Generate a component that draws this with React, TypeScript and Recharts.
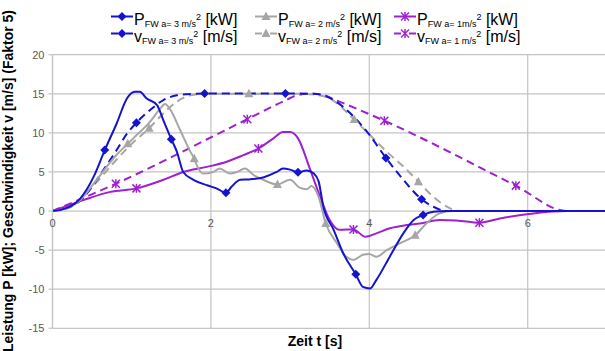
import React from 'react';
import { LineChart, Line, XAxis, YAxis, CartesianGrid } from 'recharts';

type Pt = [number, number];

// Time t [s] / value pairs
const P_A3: Pt[] = [[0,0],[0.1,0.15],[0.22,0.55],[0.35,1.6],[0.52,4.4],[0.66,7.8],[0.81,11.2],[0.94,14.4],[1.04,15.25],[1.1,15.25],[1.19,14.4],[1.32,13.55],[1.4,11.6],[1.5,9.2],[1.57,7.6],[1.65,5.0],[1.78,4.0],[1.95,3.3],[2.07,2.9],[2.19,2.35],[2.26,3.1],[2.37,4.0],[2.49,4.05],[2.66,4.3],[2.83,5.0],[2.91,5.45],[3.0,5.3],[3.1,4.95],[3.21,5.2],[3.3,4.8],[3.36,3.8],[3.42,0.55],[3.55,-2.4],[3.67,-5.4],[3.83,-8.1],[3.92,-9.7],[4.01,-9.9],[4.09,-8.8],[4.26,-5.8],[4.43,-2.85],[4.56,-1.15],[4.68,-0.5],[4.81,-0.1],[4.98,0],[7,0]];
const P_A3_MARKS = [0.66, 1.5, 2.19, 3.1, 3.83, 4.68];

const P_A2: Pt[] = [[0,0],[0.22,0.5],[0.35,1.4],[0.52,3.5],[0.81,7.2],[0.95,8.6],[1.02,9.3],[1.23,11.4],[1.36,13.1],[1.42,13.7],[1.48,13.1],[1.61,10.4],[1.74,7.6],[1.79,6.7],[1.82,5.9],[1.9,4.8],[2.03,5.0],[2.11,5.45],[2.24,4.8],[2.33,5.0],[2.43,5.45],[2.54,4.6],[2.66,4.0],[2.84,3.4],[3.0,4.0],[3.12,3.0],[3.21,2.8],[3.27,3.2],[3.36,1.8],[3.45,-1.6],[3.59,-4.1],[3.71,-5.85],[3.8,-6.25],[3.92,-5.6],[4.0,-5.5],[4.09,-5.85],[4.22,-5.0],[4.39,-4.1],[4.58,-3.1],[4.72,-1.6],[4.89,-0.3],[5.06,0],[7,0]];
const P_A2_MARKS = [0.95, 1.79, 2.84, 3.45, 4.58];

const P_A1: Pt[] = [[0,0],[0.39,1.4],[0.73,2.45],[1.06,2.9],[1.4,4.0],[1.65,5.0],[1.95,5.65],[2.2,6.3],[2.41,7.15],[2.6,8.0],[2.79,9.3],[2.91,10.1],[3.0,10.1],[3.1,9.3],[3.25,5.4],[3.38,1.8],[3.5,-1.15],[3.62,-2.4],[3.8,-2.35],[3.95,-3.3],[4.09,-2.85],[4.26,-2.2],[4.47,-1.8],[4.64,-1.6],[4.89,-1.15],[5.1,-1.2],[5.39,-1.5],[5.65,-0.95],[6.07,-0.3],[6.49,0],[7,0]];
const P_A1_MARKS = [1.06, 2.6, 3.8, 5.39];

const V_A3: Pt[] = [[0,0],[0.15,0.3],[0.31,1.0],[0.47,2.7],[0.64,5.2],[0.81,7.8],[0.94,9.9],[1.06,11.3],[1.23,12.9],[1.4,14.2],[1.57,14.8],[1.78,15.0],[1.92,15.05],[2.94,15.05],[3.3,15.0],[3.45,14.7],[3.55,14.2],[3.76,12.5],[3.99,9.9],[4.21,6.8],[4.43,4.0],[4.66,1.5],[4.81,0.55],[4.98,0],[7,0]];
const V_A3_MARKS = [1.06, 1.92, 2.94, 4.21, 4.66];

const V_A2: Pt[] = [[0,0],[0.22,0.5],[0.52,3.3],[0.81,6.6],[1.0,8.6],[1.22,10.6],[1.42,12.7],[1.57,14.0],[1.74,14.8],[1.9,15.0],[2.48,15.0],[3.1,15.0],[3.3,14.9],[3.5,14.4],[3.67,13.1],[3.81,11.7],[4.01,9.7],[4.22,7.6],[4.43,5.7],[4.62,3.75],[4.81,1.8],[4.98,0.55],[5.1,0.05],[5.2,0],[7,0]];
const V_A2_MARKS = [1.22, 2.48, 3.81, 4.62];

const V_A1: Pt[] = [[0,0],[0.8,3.5],[2.46,11.75],[2.95,14.2],[3.1,14.85],[3.25,15.0],[3.4,14.9],[3.55,14.3],[4.19,11.55],[5.85,3.25],[6.49,0],[7,0]];
const V_A1_MARKS = [0.8, 2.46, 4.19, 5.85];

const X_TICKS = [0, 2, 4, 6];
const Y_TICKS = [-15, -10, -5, 0, 5, 10, 15, 20];
const X_MIN = 0, X_MAX = 7, Y_MIN = -15, Y_MAX = 20;

const X_TITLE = 'Zeit t [s]';
const Y_TITLE = 'Leistung P [kW]; Geschwindigkeit v [m/s] (Faktor 5)';

const BLUE = '#1414CC';
const GRAY = '#A6A6A6';
const PURPLE = '#9E20D2';
const GRID = '#C4C4C4';

// layout
const CW = 620, CH = 351;
const X_AXIS_H = 20;
const M = { top: 54.7, right: 13.1, bottom: 22.7 - X_AXIS_H, left: 0 };
const Y_AXIS_W = 52.5;
const PLOT_H = CH - M.top - M.bottom - X_AXIS_H;
const ZERO_Y = M.top + (PLOT_H * (Y_MAX - 0)) / (Y_MAX - Y_MIN);

type Kind = 'diamond' | 'triangle' | 'star';

const Marker = ({ kind, cx, cy, color }: { kind: Kind; cx: number; cy: number; color: string }) => {
  if (kind === 'diamond') {
    const r = 4.5;
    return <polygon points={`${cx},${cy - r} ${cx + r},${cy} ${cx},${cy + r} ${cx - r},${cy}`} fill={color} />;
  }
  if (kind === 'triangle') {
    return <polygon points={`${cx},${cy - 5} ${cx + 4.5},${cy + 3.5} ${cx - 4.5},${cy + 3.5}`} fill={color} />;
  }
  const r = 4;
  return (
    <g stroke={color} strokeWidth={1.5}>
      <line x1={cx - r} y1={cy - r} x2={cx + r} y2={cy + r} />
      <line x1={cx - r} y1={cy + r} x2={cx + r} y2={cy - r} />
      <line x1={cx} y1={cy - r - 0.5} x2={cx} y2={cy + r + 0.5} />
    </g>
  );
};

interface Series {
  key: string;
  pts: Pt[];
  marks: number[];
  color: string;
  dashed: boolean;
  kind: Kind;
}

// drawing order: last drawn on top
const SERIES: Series[] = [
  { key: 'vA1', pts: V_A1, marks: V_A1_MARKS, color: PURPLE, dashed: true, kind: 'star' },
  { key: 'vA2', pts: V_A2, marks: V_A2_MARKS, color: GRAY, dashed: true, kind: 'triangle' },
  { key: 'vA3', pts: V_A3, marks: V_A3_MARKS, color: BLUE, dashed: true, kind: 'diamond' },
  { key: 'pA1', pts: P_A1, marks: P_A1_MARKS, color: PURPLE, dashed: false, kind: 'star' },
  { key: 'pA2', pts: P_A2, marks: P_A2_MARKS, color: GRAY, dashed: false, kind: 'triangle' },
  { key: 'pA3', pts: P_A3, marks: P_A3_MARKS, color: BLUE, dashed: false, kind: 'diamond' },
];

interface LegendItem {
  sym: string;
  sub: string;
  unit: string;
  color: string;
  dashed: boolean;
  kind: Kind;
}

const LEGEND_ROWS: LegendItem[][] = [
  [
    { sym: 'P', sub: 'FW a= 3 m/s', unit: '[kW]', color: BLUE, dashed: false, kind: 'diamond' },
    { sym: 'P', sub: 'FW a= 2 m/s', unit: '[kW]', color: GRAY, dashed: false, kind: 'triangle' },
    { sym: 'P', sub: 'FW a= 1m/s', unit: '[kW]', color: PURPLE, dashed: false, kind: 'star' },
  ],
  [
    { sym: 'v', sub: 'FW a= 3 m/s', unit: '[m/s]', color: BLUE, dashed: true, kind: 'diamond' },
    { sym: 'v', sub: 'FW a= 2 m/s', unit: '[m/s]', color: GRAY, dashed: true, kind: 'triangle' },
    { sym: 'v', sub: 'FW a= 1 m/s', unit: '[m/s]', color: PURPLE, dashed: true, kind: 'star' },
  ],
];
const LEG_COL_X = [111, 255, 394];
const LEG_ROW_Y = [25, 42];

const FONT = 'Liberation Sans, Arial, sans-serif';

const renderXTick = (props: any) => {
  const { x, payload, index } = props;
  return (
    <text key={`xt-${index}`} x={x} y={ZERO_Y + 16} textAnchor="middle" fontSize={11} fill="#595959" fontFamily={FONT}>
      {payload.value}
    </text>
  );
};

const makeDot = (s: Series) => (p: any) => {
  const { cx, cy, payload, index } = p;
  if (!payload || !payload.m || cx == null || cy == null) return <g key={`${s.key}-e-${index}`} />;
  return (
    <g key={`${s.key}-m-${index}`}>
      <Marker kind={s.kind} cx={cx} cy={cy} color={s.color} />
    </g>
  );
};

export default function App() {
  return (
    <div style={{ position: 'fixed', left: 0, top: 0, width: 605, height: 351, overflow: 'hidden', background: '#fff', fontFamily: FONT }}>
      <div style={{ position: 'absolute', left: 0, top: 0 }}>
        <LineChart width={CW} height={CH} margin={M}>
          <CartesianGrid stroke={GRID} strokeWidth={1.2} />
          <XAxis
            type="number"
            dataKey="t"
            domain={[X_MIN, X_MAX]}
            ticks={X_TICKS}
            height={X_AXIS_H}
            axisLine={false}
            tickLine={false}
            tick={renderXTick}
            interval={0}
            allowDataOverflow
          />
          <YAxis
            type="number"
            domain={[Y_MIN, Y_MAX]}
            ticks={Y_TICKS}
            width={Y_AXIS_W}
            axisLine={{ stroke: GRID, strokeWidth: 1.2 }}
            tickLine={{ stroke: GRID, strokeWidth: 1.2 }}
            tickSize={4}
            tickMargin={4}
            interval={0}
            tick={{ fontSize: 11, fill: '#595959', fontFamily: FONT }}
            allowDataOverflow
          />
          {SERIES.map((s) => (
            <Line
              key={s.key}
              data={s.pts.map(([t, v]) => ({ t, v, m: s.marks.includes(t) }))}
              dataKey="v"
              type="monotone"
              stroke={s.color}
              strokeWidth={2}
              strokeDasharray={s.dashed ? '8 5' : undefined}
              dot={makeDot(s)}
              activeDot={false}
              isAnimationActive={false}
            />
          ))}
        </LineChart>
      </div>
      <svg width={605} height={351} style={{ position: 'absolute', left: 0, top: 0, pointerEvents: 'none' }} fontFamily={FONT}>
        {LEGEND_ROWS.map((row, ri) =>
          row.map((it, ci) => {
            const x0 = LEG_COL_X[ci];
            const base = LEG_ROW_Y[ri];
            const ly = base - 8.5;
            const lw = 22;
            return (
              <g key={`${ri}-${ci}`}>
                <line x1={x0} y1={ly} x2={x0 + lw} y2={ly} stroke={it.color} strokeWidth={2} strokeDasharray={it.dashed ? '7 8' : undefined} />
                <Marker kind={it.kind} cx={x0 + lw / 2} cy={ly} color={it.color} />
                <text x={x0 + lw + 1} y={base} fontSize={16} fill="#000">
                  {it.sym}
                  <tspan fontSize={9} dy={2}>{it.sub}</tspan>
                  <tspan fontSize={9} dy={-7}>2</tspan>
                  <tspan fontSize={16} dy={5}>{' ' + it.unit}</tspan>
                </text>
              </g>
            );
          })
        )}
        <text x={315} y={346} textAnchor="middle" fontSize={14} fontWeight="bold" fill="#000">{X_TITLE}</text>
        <text transform="translate(13,181) rotate(-90)" textAnchor="middle" fontSize={14} fontWeight="bold" fill="#000">{Y_TITLE}</text>
      </svg>
    </div>
  );
}
